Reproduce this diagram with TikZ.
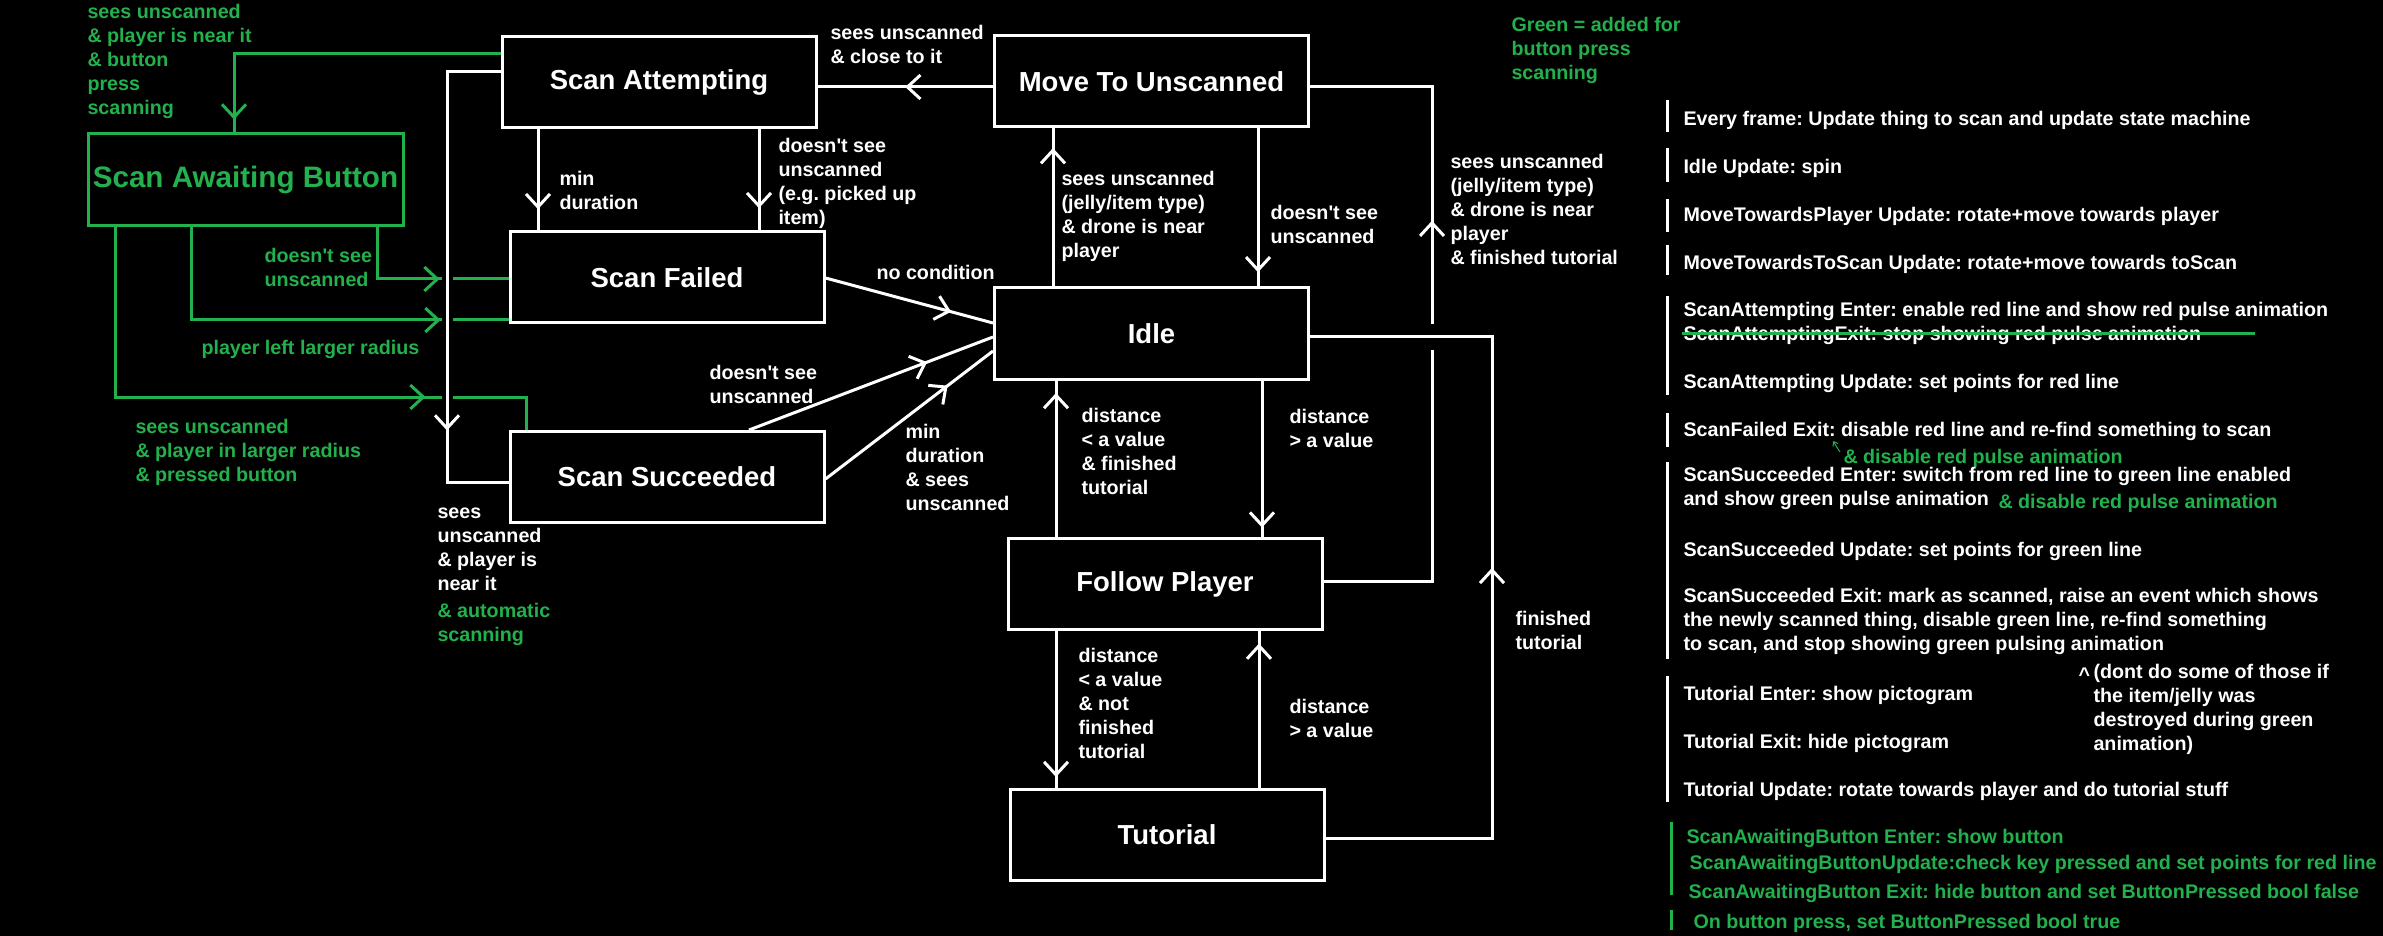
\documentclass[tikz,border=0pt]{standalone}
\usepackage{fontspec}
\setmainfont{Liberation Sans}
\usetikzlibrary{arrows.meta,decorations.markings,positioning,calc}
\definecolor{paintgreen}{RGB}{34,177,76}
\newcommand{\apos}{\textquotesingle}
\frenchspacing

\begin{document}
\begin{tikzpicture}[x=0.5pt, y=-0.5pt, line width=1.5pt, >={Straight Barb[length=6.5pt,width=12pt]},
  font=\bfseries\fontsize{9.85}{12}\selectfont, text=white,
  arrowat/.style={postaction={decorate}, decoration={markings, mark=at position #1 with {\arrow{>}}}},
  halo/.style={preaction={draw=black, line width=#1}}]
\tikzstyle{statebox}=[draw=white, minimum width=157pt, minimum height=45.5pt, inner sep=0pt, font=\bfseries\fontsize{13.75}{16}\selectfont]
\tikzstyle{greenbox}=[statebox, draw=paintgreen, text=paintgreen, minimum width=157.5pt, minimum height=46pt, font=\bfseries\fontsize{14.8}{17}\selectfont]
\tikzstyle{lbl}=[anchor=north west, align=left, inner sep=0pt, execute at begin node=\strut]
\tikzstyle{glbl}=[lbl, text=paintgreen]
\tikzstyle{wire}=[white]
\tikzstyle{gwire}=[paintgreen]

\path[use as bounding box, fill=black] (0,0) rectangle (2383,936);

\node[greenbox] (await)     at (245.5,180)  {Scan Awaiting Button};
\node[statebox] (attempt)   at (659,82)     {Scan Attempting};
\node[statebox] (unscanned) at (1151.5,81.5) {Move To Unscanned};
\node[statebox] (fail)      at (667,277.5)  {Scan Failed};
\node[statebox] (idle)      at (1151.5,333.5) {Idle};
\node[statebox] (succ)      at (667,477)    {Scan Succeeded};
\node[statebox] (follow)    at (1165,584)   {Follow Player};
\node[statebox] (tutorial)  at (1167,835)   {Tutorial};

\draw[gwire, arrowat=166pt] (attempt.west |- 0,54) -| (234,0 |- await.north);
\draw[gwire, arrowat=57pt] (377,0 |- await.south) |- (fail.west |- 0,279);
\draw[gwire, arrowat=171pt] (191,0 |- await.south) |- (fail.west |- 0,320);
\draw[gwire, arrowat=240pt] (115,0 |- await.south) |- (526,397) -- (526,0 |- succ.north);

\draw[wire, halo=5.5pt, arrowat=206pt] (attempt.west |- 0,72) -| (447,482) -- (succ.west |- 0,482);
\draw[wire, arrowat=0.79] (538,0 |- attempt.south) -- (538,0 |- fail.north);
\draw[wire, arrowat=0.78] (759,0 |- attempt.south) -- (759,0 |- fail.north);
\draw[wire, arrowat=0.5] (unscanned.west |- 0,87) -- (attempt.east |- 0,87);
\draw[wire, arrowat=0.91] (1258,0 |- unscanned.south) -- (1258,0 |- idle.north);
\draw[wire, arrowat=0.876] (1053,0 |- idle.north) -- (1053,0 |- unscanned.south);
\draw[wire, arrowat=0.75] (fail.east |- 0,278) -- (idle.west |- 0,323);
\draw[wire, arrowat=0.73] (749,0 |- succ.north) -- (idle.west |- 0,337);
\draw[wire, arrowat=0.73] (succ.east |- 0,479) -- (idle.west |- 0,351);
\draw[wire, arrowat=0.94] (1262,0 |- idle.south) -- (1262,0 |- follow.north);
\draw[wire, arrowat=0.92] (1056,0 |- follow.north) -- (1056,0 |- idle.south);
\draw[wire, arrowat=0.93] (1056,0 |- follow.south) -- (1056,0 |- tutorial.north);
\draw[wire, arrowat=0.92] (1259,0 |- tutorial.north) -- (1259,0 |- follow.south);
\draw[wire, arrowat=0.647] (follow.east |- 0,581) -| (1432,87) -- (unscanned.east |- 0,87);
\draw[wire, halo=12.5pt, arrowat=0.514] (tutorial.east |- 0,838) -| (1492,337) -- (idle.east |- 0,337);

\node[glbl] (lbutton)   at (86,3)     {sees unscanned\\\& player is near it\\\& button\\press\\scanning};
\node[glbl] (lnotsee)   at (263,247)  {doesn\apos t see\\unscanned};
\node[glbl] (lleft)     at (200,336)  {player left larger radius};
\node[glbl] (lpressed)  at (134,418)  {sees unscanned\\\& player in larger radius\\\& pressed button};
\node[lbl]  (lnear)     at (436,506)  {sees\\unscanned\\\& player is\\near it};
\node[glbl] (lauto)     at (436,602)  {\& automatic\\scanning};
\node[lbl]  (lmin)      at (558,170)  {min\\duration};
\node[lbl]  (lpicked)   at (777,137)  {doesn\apos t see\\unscanned\\(e.g. picked up\\item)};
\node[lbl]  (lclose)    at (829,24)   {sees unscanned\\\& close to it};
\node[lbl]  (lnocond)   at (875,261)  {no condition};
\node[lbl]  (lsuccnot)  at (708,364)  {doesn\apos t see\\unscanned};
\node[lbl]  (lsuccmin)  at (904,423)  {min\\duration\\\& sees\\unscanned};
\node[lbl]  (ljelly)    at (1060,170) {sees unscanned\\(jelly/item type)\\\& drone is near\\player};
\node[lbl]  (lidlenot)  at (1269,204) {doesn\apos t see\\unscanned};
\node[lbl]  (ljellyfin) at (1449,153) {sees unscanned\\(jelly/item type)\\\& drone is near\\player\\\& finished tutorial};
\node[lbl]  (lclosefin) at (1080,407) {distance\\< a value\\\& finished\\tutorial};
\node[lbl]  (lfar)      at (1288,408) {distance\\> a value};
\node[lbl]  (lclosenot) at (1077,647) {distance\\< a value\\\& not\\finished\\tutorial};
\node[lbl]  (lfartut)   at (1288,698) {distance\\> a value};
\node[lbl]  (lfinished) at (1514,610) {finished\\tutorial};
\node[glbl] (legend)    at (1510,16)  {Green = added for\\button press\\scanning};

\foreach \ya/\yb in {100/132,148/182,199/232,245/275,296/395,413/447,462/659,676/802}
  \draw[wire] (1667,\ya) -- (1667,\yb);
\foreach \ya/\yb in {822/895,910/930}
  \draw[gwire] (1671,\ya) -- (1671,\yb);

\node[lbl]  (everyframe)   at (1682,107) {Every frame: Update thing to scan and update state machine};
\node[lbl]  (idleupd)      at (1682,155) {Idle Update: spin};
\node[lbl]  (playerupd)    at (1682,203) {MoveTowardsPlayer Update: rotate+move towards player};
\node[lbl]  (toscanupd)    at (1682,251) {MoveTowardsToScan Update: rotate+move towards toScan};
\node[lbl]  (attemptenter) at (1682,298) {ScanAttempting Enter: enable red line and show red pulse animation};
\node[lbl]  (attemptexit)  at (1682,322) {ScanAttemptingExit: stop showing red pulse animation};
\node[lbl]  (attemptupd)   at (1682,370) {ScanAttempting Update: set points for red line};
\node[lbl]  (failexit)     at (1682,418) {ScanFailed Exit: disable red line and re-find something to scan};
\node[glbl] (failexitadd)  at (1842,445) {\& disable red pulse animation};
\node[lbl]  (succenter)    at (1682,466) {ScanSucceeded Enter: switch from red line to green line enabled\\and show green pulse animation};
\node[glbl] (succenteradd) at (1997,490) {\& disable red pulse animation};
\node[lbl]  (succupd)      at (1682,538) {ScanSucceeded Update: set points for green line};
\node[lbl]  (succexit)     at (1682,587) {ScanSucceeded Exit: mark as scanned, raise an event which shows\\the newly scanned thing, disable green line, re-find something\\to scan, and stop showing green pulsing animation};
\node[lbl]  (tutenter)     at (1682,682) {Tutorial Enter: show pictogram};
\node[lbl]  (tutexit)      at (1682,730) {Tutorial Exit: hide pictogram};
\node[lbl]  (tutupd)       at (1682,778) {Tutorial Update: rotate towards player and do tutorial stuff};
\node[lbl]  (caret)        at (2077,663) {\textasciicircum};
\node[lbl]  (succnote)     at (2092,663) {(dont do some of those if\\the item/jelly was\\destroyed during green\\animation)};
\node[glbl] (awaitenter)   at (1685,825) {ScanAwaitingButton Enter: show button};
\node[glbl] (awaitupd)     at (1688,851) {ScanAwaitingButtonUpdate:check key pressed and set points for red line};
\node[glbl] (awaitexit)    at (1687,880) {ScanAwaitingButton Exit: hide button and set ButtonPressed bool false};
\node[glbl] (buttonpress)  at (1692,910) {On button press, set ButtonPressed bool true};

\draw[gwire] (attemptexit.west |- 0,334) -- (2255,334);
\draw[gwire, line width=0.5pt, -{Straight Barb[length=2pt,width=3pt]}] ([shift={(-2,7)}]failexitadd.north west) -- ++(-7,-11);
\end{tikzpicture}
\end{document}
